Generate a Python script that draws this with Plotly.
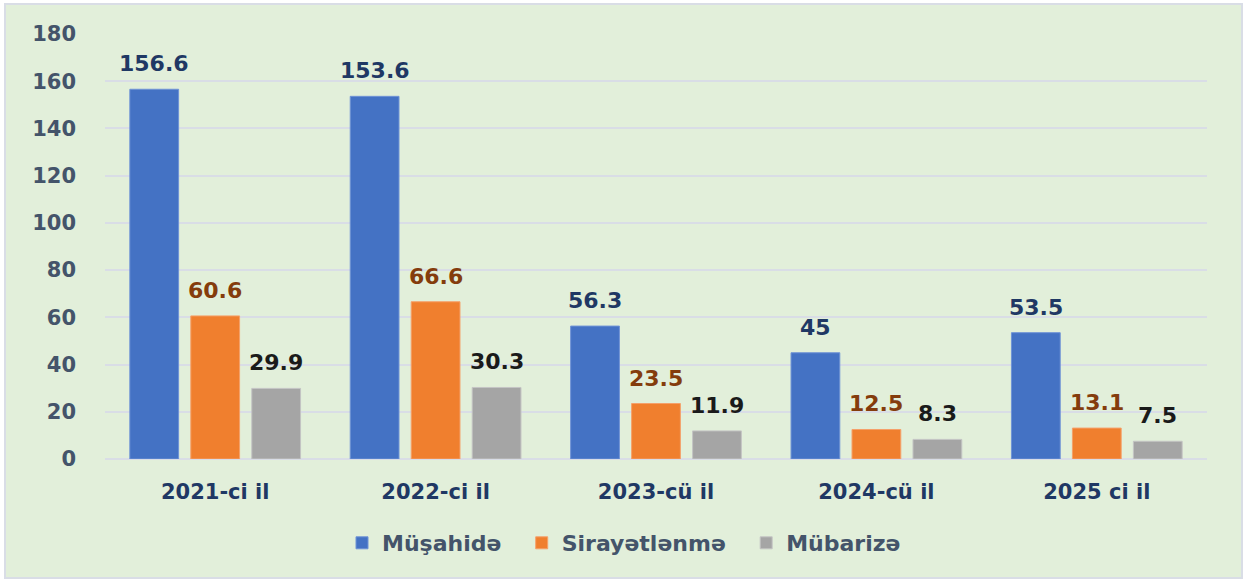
import plotly.graph_objects as go

categories = ["2021-ci il", "2022-ci il", "2023-cü il", "2024-cü il", "2025 ci il"]
musahide = [156.6, 153.6, 56.3, 45, 53.5]
sirayetlenme = [60.6, 66.6, 23.5, 12.5, 13.1]
mubarize = [29.9, 30.3, 11.9, 8.3, 7.5]
y_ticks = [0, 20, 40, 60, 80, 100, 120, 140, 160, 180]

W, H = 1248, 581
ML, MR, MT, MB = 105, 41, 34, 122
BARGAP, BARGROUPGAP = 0.17, 0.2

FONT = "DejaVu Sans"
PAD = "\u00a0\u00a0"

series = [
    ("Müşahidə", musahide, "#4472C4", "#6f93d6", "#1F3864"),
    ("Sirayətlənmə", sirayetlenme, "#F07F2E", "#f5a06a", "#843C0C"),
    ("Mübarizə", mubarize, "#A5A5A5", "#c4c4c4", "#1a1a1a"),
]

pw = W - ML - MR
ph = H - MT - MB
cat_px = pw / len(categories)
slot_px = cat_px * (1 - BARGAP) / len(series)

fig = go.Figure()
annotations = []
for i, (name, vals, col, line, tcol) in enumerate(series):
    fig.add_trace(go.Bar(
        name=name + (PAD if i < len(series) - 1 else ""), x=categories, y=vals,
        marker=dict(color=col, line=dict(color=line, width=1)),
        cliponaxis=False,
    ))
    for c, v in zip(categories, vals):
        annotations.append(dict(
            x=c, y=v, xref="x", yref="y", text=f"{v:g}", showarrow=False,
            xanchor="center", yanchor="bottom",
            xshift=(i - (len(series) - 1) / 2) * slot_px, yshift=11,
            font=dict(family=FONT, size=22, color=tcol, weight="bold"),
        ))

fig.add_shape(type="rect", xref="paper", yref="paper",
              x0=-(ML - 5) / pw, x1=1 + (MR - 6) / pw,
              y0=-(MB - 3) / ph, y1=1 + (MT - 4) / ph,
              fillcolor="#E2EFDA", line=dict(color="#D9DDE6", width=2),
              layer="below")

fig.update_layout(
    width=W, height=H,
    margin=dict(l=ML, r=MR, t=MT, b=MB),
    paper_bgcolor="white", plot_bgcolor="rgba(0,0,0,0)",
    barmode="group", bargap=BARGAP, bargroupgap=BARGROUPGAP,
    font=dict(family=FONT),
    showlegend=True,
    annotations=annotations,
    legend=dict(orientation="h", xref="container", x=342 / W, xanchor="left",
                yref="container", y=(H - 543) / H, yanchor="middle",
                font=dict(family=FONT, size=22, color="#44546A", weight="bold"),
                itemwidth=30, bgcolor="rgba(0,0,0,0)"),
)
fig.update_xaxes(
    tickfont=dict(family=FONT, size=21, color="#1F3864", weight="bold"),
    showgrid=False, showline=False, ticks="", ticklabelstandoff=18,
)
fig.update_yaxes(
    range=[0, 180], tickvals=y_ticks,
    tickfont=dict(family=FONT, size=21, color="#44546A", weight="bold"),
    showgrid=True, gridcolor="#D9DDE6", gridwidth=2,
    zeroline=True, zerolinecolor="#D9DDE6", zerolinewidth=2,
    ticks="", ticklabelstandoff=28, showline=False,
)

fig.write_html("out.html", config={"displayModeBar": False},
               post_script="document.body.style.margin='0';")
